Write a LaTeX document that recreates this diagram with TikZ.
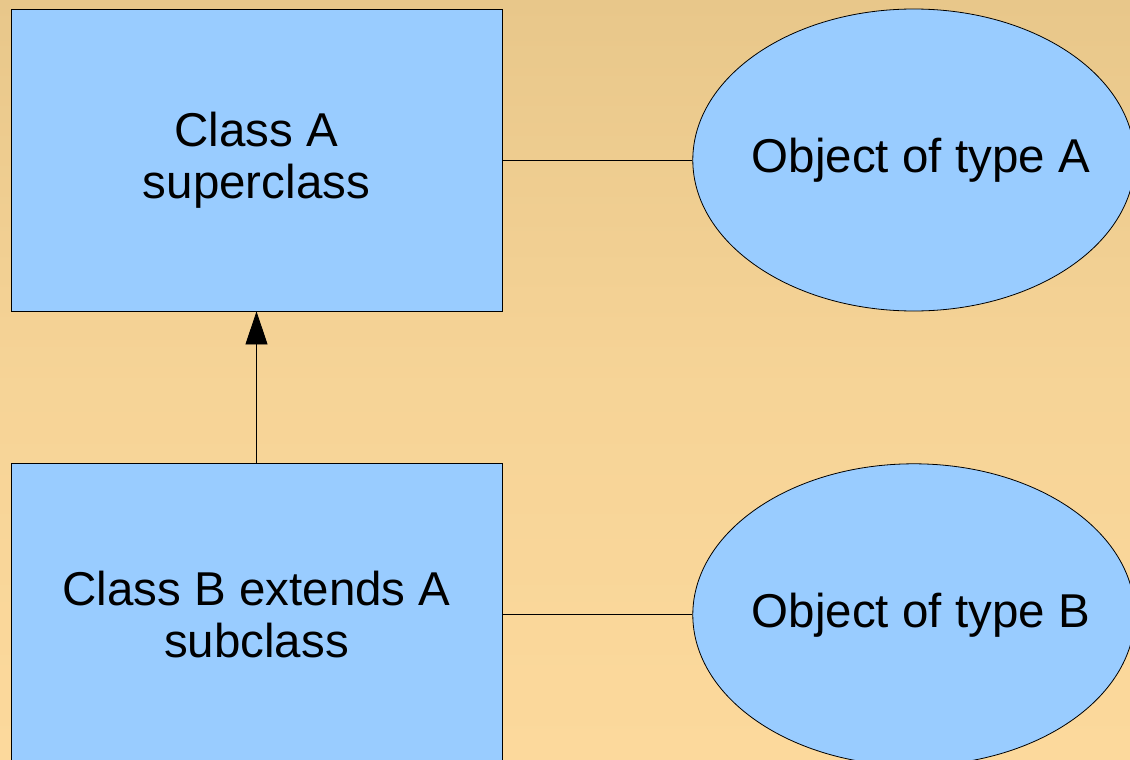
\documentclass[tikz,border=0pt]{standalone}
\usepackage{fontspec}
\setmainfont{Liberation Sans}
\usepackage{tikz}
\usetikzlibrary{shapes,arrows,arrows.meta,positioning}
\definecolor{boxblue}{RGB}{153,204,255}
\definecolor{bgtop}{RGB}{232,199,138}
\definecolor{bgbottom}{RGB}{252,217,156}

\begin{document}
\begin{tikzpicture}[x=1pt, y=-1pt]
    % Define block styles
    \tikzstyle{block} = [rectangle, draw, fill=boxblue, line width=0.8pt,
        minimum width=491pt, minimum height=302pt, align=center,
        font=\fontsize{47.5}{52}\selectfont]
    \tikzstyle{instance} = [ellipse, draw, fill=boxblue, line width=0.8pt,
        minimum width=442pt, minimum height=302pt, inner xsep=-22pt,
        font=\fontsize{47.5}{52}\selectfont]
    \tikzstyle{line} = [draw, line width=0.8pt, -{Triangle[length=33pt, width=22pt]}]
    \tikzstyle{link} = [draw, line width=0.8pt]

    % Background
    \useasboundingbox (0,0) rectangle (1130,760);
    \shade[top color=bgtop, bottom color=bgbottom, middle color=bgbottom!70!bgtop]
        (0,0) rectangle (1130,760);

    % Place nodes
    \node [block] (classA) at (256.5,160) {Class A\\superclass};
    \node [block, below=152pt of classA] (classB) {Class B extends A\\subclass};
    \node [instance, right=190pt of classA] (objA) {\hspace*{14pt}Object of type A};
    \node [instance, right=190pt of classB] (objB) {\hspace*{14pt}Object of type B};

    % Draw edges
    \path [line] (classB) -- (classA);
    \path [link] (classA) -- (objA);
    \path [link] (classB) -- (objB);
\end{tikzpicture}
\end{document}
